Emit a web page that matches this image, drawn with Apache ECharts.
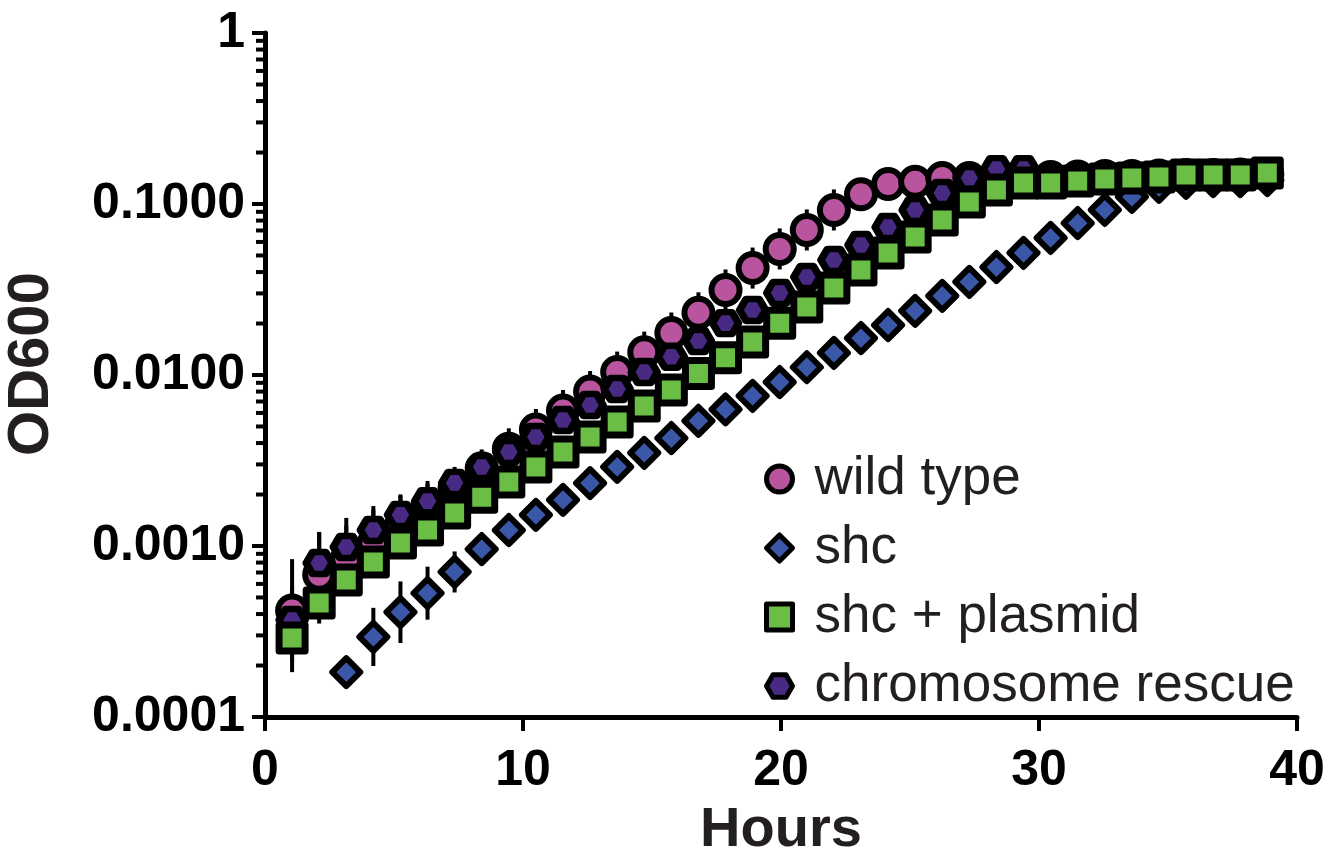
<!DOCTYPE html>
<html>
<head>
<meta charset="utf-8">
<script src="https://cdn.jsdelivr.net/npm/echarts@6/dist/echarts.min.js"></script>
<style>
  html, body { margin: 0; padding: 0; background: #fff; }
  #chart { width: 1339px; height: 852px; }
</style>
</head>
<body>
<div id="chart"></div>
<script>
// sampling times (hours)
const hours = [1.05, 2.1, 3.15, 4.2, 5.25, 6.3, 7.35, 8.4, 9.45, 10.5, 11.55, 12.6, 13.65, 14.7, 15.75,
  16.8, 17.85, 18.9, 19.95, 21, 22.05, 23.1, 24.15, 25.2, 26.25, 27.3, 28.35, 29.4, 30.45, 31.5,
  32.55, 33.6, 34.65, 35.7, 36.75, 37.8, 38.85]

// OD600 means
const wildType = [0.00042, 0.00068, 0.00083, 0.00103, 0.0013, 0.0017, 0.0022, 0.00285, 0.0037, 0.0048,
  0.0062, 0.008, 0.0104, 0.0136, 0.0176, 0.0231, 0.0314, 0.0422, 0.0546, 0.0705, 0.0923, 0.114,
  0.131, 0.135, 0.142, 0.142, 0.143, 0.144, 0.144, 0.145, 0.146, 0.146, 0.147, 0.148, 0.148, 0.149, 0.15]
const shc = [null, null, 0.000183, 0.000294, 0.00041, 0.00053, 0.000705, 0.00096, 0.00124, 0.00152,
  0.00186, 0.00233, 0.0029, 0.0035, 0.00428, 0.0054, 0.0063, 0.00754, 0.0091, 0.0111, 0.01345, 0.01645,
  0.0196, 0.0237, 0.029, 0.035, 0.0428, 0.0517, 0.0633, 0.0774, 0.0923, 0.11, 0.126, 0.133, 0.136, 0.136, 0.138]
const shcPlasmid = [0.00029, 0.000464, 0.000633, 0.000805, 0.00104, 0.00124, 0.00156, 0.00193, 0.00237, 0.0029,
  0.00355, 0.00434, 0.00531, 0.00659, 0.00817, 0.0102, 0.0126, 0.0156, 0.0201, 0.025, 0.0323, 0.0411,
  0.0517, 0.0641, 0.0806, 0.1028, 0.1208, 0.1327, 0.1327, 0.1364, 0.1401, 0.1419, 0.1439, 0.1478, 0.1478, 0.1478, 0.1519]
const chromRescue = [0.000369, 0.000796, 0.000987, 0.00124, 0.00152, 0.00183, 0.00234, 0.0029, 0.00355, 0.00434,
  0.00545, 0.00668, 0.00828, 0.0104, 0.0128, 0.0158, 0.0201, 0.024, 0.0302, 0.0374, 0.0471, 0.0576,
  0.0733, 0.0923, 0.116, 0.142, 0.16, 0.16, 0.14, 0.14, 0.141, 0.142, 0.143, 0.145, 0.146, 0.147, 0.149]

// error bar half-widths, in log10 units
const wildTypeErr = [0.3, 0.25, 0.2, 0.2, 0.18, 0.15, 0.12, 0.11, 0.12, 0.12, 0.12, 0.12, 0.12, 0.12, 0.12,
  0.12, 0.12, 0.12, 0.12, 0.12, 0.12, 0.09, 0.07, 0.05, 0.05, 0.05, 0.05, 0.05, 0.05, 0.05, 0.05, 0.05,
  0.05, 0.05, 0.05, 0.05, 0.05]
const shcErr = [0, 0, 0.05, 0.17, 0.18, 0.155, 0.12, 0.06, 0.04, 0.04, 0.04, 0.04, 0.04, 0.04, 0.04, 0.04,
  0.04, 0.04, 0.04, 0.04, 0.04, 0.04, 0.04, 0.04, 0.04, 0.04, 0.04, 0.04, 0.04, 0.04, 0.04, 0.04, 0.04,
  0.04, 0.04, 0.04, 0.04]
const shcPlasmidErr = [0.2, 0.12, 0.08, 0.06, 0.05, 0.05, 0.05, 0.05, 0.05, 0.05, 0.05, 0.05, 0.05, 0.05,
  0.05, 0.05, 0.05, 0.05, 0.05, 0.05, 0.05, 0.05, 0.05, 0.05, 0.05, 0.05, 0.05, 0.05, 0.05, 0.05, 0.05,
  0.05, 0.05, 0.05, 0.05, 0.05, 0.05]
const chromRescueErr = [0.2, 0.18, 0.17, 0.14, 0.12, 0.1, 0.06, 0.06, 0.06, 0.06, 0.06, 0.06, 0.06, 0.06,
  0.06, 0.06, 0.06, 0.06, 0.06, 0.06, 0.06, 0.06, 0.06, 0.06, 0.06, 0.06, 0.06, 0.06, 0.06, 0.06, 0.06,
  0.06, 0.06, 0.06, 0.06, 0.06, 0.06]

const xTicks = [0, 10, 20, 30, 40]
const yMinorFactors = [2, 3, 4, 5, 6, 7, 8, 9]
const yDecades = [0.0001, 0.001, 0.01, 0.1]

const FONT = '"Liberation Sans", Arial, Helvetica, sans-serif'
const hexagon = 'path://M0,43.3 L25,0 L75,0 L100,43.3 L75,86.6 L25,86.6 Z'

const chart = echarts.init(document.getElementById('chart'), null, { renderer: 'canvas' })

// points for a scatter series
const toPoints = (vals) => hours.map((h, i) => [h, vals[i]]).filter(p => p[1] != null)

// vertical error bars drawn through the axes
const errorBars = (vals, errs) => ({
  type: 'custom',
  silent: true,
  z: 1,
  clip: false,
  encode: { x: 0, y: [1, 2] },
  data: hours.map((h, i) => vals[i] == null ? null
    : [h, vals[i] / Math.pow(10, errs[i]), vals[i] * Math.pow(10, errs[i])]).filter(Boolean),
  renderItem: (params, api) => {
    const lo = api.coord([api.value(0), api.value(1)])
    const hi = api.coord([api.value(0), api.value(2)])
    return {
      type: 'line',
      shape: { x1: lo[0], y1: lo[1], x2: hi[0], y2: hi[1] },
      style: { stroke: '#000', lineWidth: 4 }
    }
  }
})

// log minor ticks on the y axis (2..9 in each decade)
const minorTickData = []
yDecades.forEach(d => yMinorFactors.forEach(f => minorTickData.push([0, d * f])))

const minorTicks = {
  type: 'custom',
  silent: true,
  clip: false,
  z: 1,
  data: minorTickData,
  renderItem: (params, api) => {
    const p = api.coord([api.value(0), api.value(1)])
    return {
      type: 'line',
      shape: { x1: p[0] - 9, y1: p[1], x2: p[0], y2: p[1] },
      style: { stroke: '#000', lineWidth: 4 }
    }
  }
}

const scatter = (name, vals, symbol, size, color, border, z) => ({
  name,
  type: 'scatter',
  data: toPoints(vals),
  symbol,
  symbolSize: size,
  z,
  itemStyle: { color, borderColor: '#000', borderWidth: border, borderJoin: 'round', opacity: 1 },
  emphasis: { disabled: true }
})

const option = {
  animation: false,
  backgroundColor: '#fff',
  grid: { left: 265, right: 42, top: 33, bottom: 135, containLabel: false, outerBoundsMode: 'none' },
  xAxis: {
    type: 'value',
    min: 0,
    max: 40,
    interval: 10,
    name: 'Hours',
    nameLocation: 'middle',
    nameGap: 86,
    nameTextStyle: { fontFamily: FONT, fontWeight: 'bold', fontSize: 56, color: '#231f20' },
    axisLine: { lineStyle: { color: '#000', width: 5 } },
    axisTick: { length: 14, lineStyle: { color: '#000', width: 4 } },
    axisLabel: {
      fontFamily: FONT, fontWeight: 'bold', fontSize: 50, color: '#000', margin: 29,
      formatter: v => xTicks.includes(v) ? String(v) : ''
    },
    splitLine: { show: false }
  },
  yAxis: {
    type: 'log',
    logBase: 10,
    min: 0.0001,
    max: 1,
    name: 'OD600',
    nameLocation: 'middle',
    nameGap: 204,
    nameRotate: 90,
    nameTextStyle: { fontFamily: FONT, fontWeight: 'bold', fontSize: 58, color: '#231f20', padding: [0, 0, 0, 22] },
    axisLine: { lineStyle: { color: '#000', width: 5 } },
    axisTick: { length: 13, lineStyle: { color: '#000', width: 4 } },
    axisLabel: {
      fontFamily: FONT, fontWeight: 'bold', fontSize: 50, color: '#000', margin: 20,
      formatter: v => v >= 0.999 ? '1' : v.toFixed(4)
    },
    splitLine: { show: false }
  },
  legend: {
    data: ['wild type', 'shc', 'shc + plasmid', 'chromosome rescue'],
    orient: 'vertical',
    left: 759,
    top: 446,
    itemWidth: 26,
    itemHeight: 26,
    itemGap: 13,
    selectedMode: false,
    itemStyle: { borderColor: '#000', borderWidth: 5 },
    textStyle: { fontFamily: FONT, fontSize: 53, color: '#231f20', lineHeight: 56, padding: [0, 0, 0, 17] }
  },
  series: [
    errorBars(wildType, wildTypeErr),
    errorBars(shc, shcErr),
    errorBars(chromRescue, chromRescueErr),
    errorBars(shcPlasmid, shcPlasmidErr),
    minorTicks,
    scatter('wild type', wildType, 'circle', 28, '#B9559E', 6, 2),
    scatter('shc', shc, 'diamond', 28, '#3B57A8', 6, 3),
    scatter('shc + plasmid', shcPlasmid, 'rect', 26, '#6ABD45', 7, 5),
    scatter('chromosome rescue', chromRescue, hexagon, [26, 22], '#482A82', 7, 4)
  ]
}

chart.setOption(option)
</script>
</body>
</html>
